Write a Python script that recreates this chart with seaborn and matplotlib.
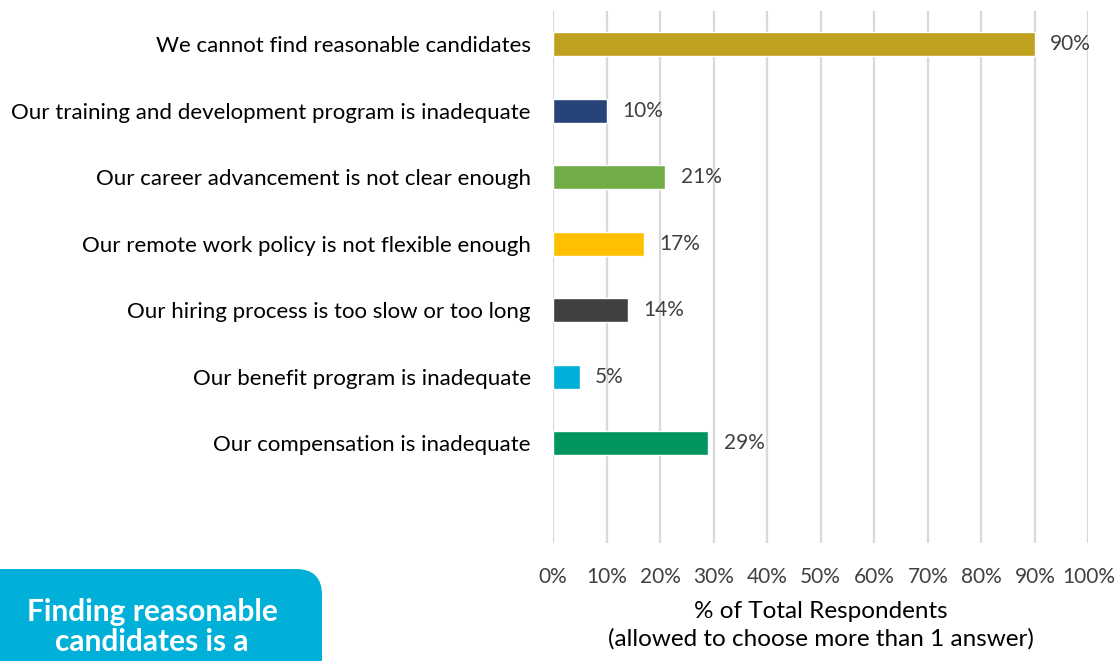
import matplotlib
matplotlib.use("Agg")
import matplotlib.pyplot as plt
from matplotlib.patches import FancyBboxPatch
from matplotlib.transforms import IdentityTransform
import seaborn as sns
import pandas as pd

reasons = [
    "We cannot find reasonable candidates",
    "Our training and development program is inadequate",
    "Our career advancement is not clear enough",
    "Our remote work policy is not flexible enough",
    "Our hiring process is too slow or too long",
    "Our benefit program is inadequate",
    "Our compensation is inadequate",
]
shares = [90, 10, 21, 17, 14, 5, 29]
bar_colors = ["#C0A01F", "#264478", "#70AD47", "#FFC000", "#404040", "#00B0D8", "#00965E"]
tick_values = list(range(0, 101, 10))
tick_labels = [f"{v}%" for v in tick_values]

sns.set_theme(style="white")
plt.rcParams["font.family"] = ["Lato", "DejaVu Sans"]

df = pd.DataFrame({"reason": reasons, "share": shares})

fig = plt.figure(figsize=(11.18, 6.61), dpi=100)
ax = fig.add_axes([0.4946, 0.1785, 0.4790, 0.8052])

sns.barplot(data=df, y="reason", x="share", hue="reason", order=reasons,
            hue_order=reasons, palette=bar_colors, orient="h", width=0.36,
            dodge=False, legend=False, saturation=1, ax=ax, zorder=3)

ax.set_xlim(0, 100)
ax.set_ylim(7.5, -0.5)
ax.set_xticks(tick_values)
ax.set_xticklabels(tick_labels)
ax.xaxis.grid(True, color="#D9D9D9", linewidth=1.6, zorder=0)
ax.set_axisbelow(True)
for s in ax.spines.values():
    s.set_visible(False)
ax.tick_params(axis="x", length=0, pad=17, labelsize=15, labelcolor="#404040")
ax.tick_params(axis="y", length=0, pad=16, labelsize=16, labelcolor="#000000")
ax.set_ylabel("")
ax.set_xlabel("% of Total Respondents\n(allowed to choose more than 1 answer)",
              fontsize=17.5, color="#000000", labelpad=10, linespacing=1.38)

for i, v in enumerate(shares):
    ax.annotate(f"{v}%", xy=(v, i), xytext=(11, 0), textcoords="offset points",
                ha="left", va="center", fontsize=15, color="#404040")

# callout box in the lower left corner
box = FancyBboxPatch((-40, -40), 362, 132, boxstyle="round,pad=0,rounding_size=26",
                     transform=IdentityTransform(), facecolor="#00B0D8",
                     edgecolor="none", figure=fig)
fig.patches.append(box)
fig.text(152 / 1118, 1 - 612 / 661, "Finding reasonable", ha="center", va="center",
         fontsize=21.5, fontweight="bold", color="white")
fig.text(152 / 1118, 1 - 642 / 661, "candidates is a", ha="center", va="center",
         fontsize=21.5, fontweight="bold", color="white")

fig.savefig("out.png", dpi=100)
